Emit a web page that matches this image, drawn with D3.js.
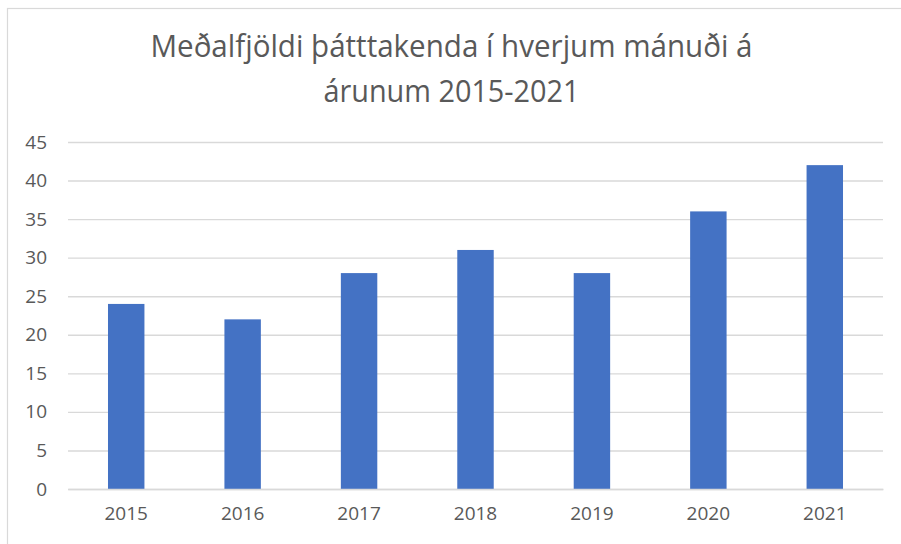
<!DOCTYPE html>
<html>
<head>
<meta charset="utf-8">
<script src="https://cdn.jsdelivr.net/npm/d3@7"></script>
<style>
  body { margin: 0; background: #fff; }
  text { font-family: "Open Sans", "Liberation Sans", sans-serif; fill: #595959; }
</style>
</head>
<body>
<div id="chart"></div>
<script>
// data
var years = ["2015", "2016", "2017", "2018", "2019", "2020", "2021"];
var values = [24, 22, 28, 31, 28, 36, 42];
var yTicks = [0, 5, 10, 15, 20, 25, 30, 35, 40, 45];
var titleLines = ["Meðalfjöldi þátttakenda í hverjum mánuði á", "árunum 2015-2021"];

var W = 901, H = 544;
var margin = { top: 142, right: 18, bottom: 55, left: 68 },
    width = W - margin.left - margin.right,
    height = H - margin.top - margin.bottom;

var svg = d3.select("#chart").append("svg")
    .attr("width", W)
    .attr("height", H);

// chart area border
svg.append("rect")
    .attr("x", 7.5).attr("y", 8.5)
    .attr("width", 920).attr("height", 560)
    .attr("fill", "none")
    .attr("stroke", "#d9d9d9")
    .attr("stroke-width", 1.2);

// title
var titleWidths = [602, 256];
svg.selectAll(".title")
    .data(titleLines)
    .enter().append("text")
    .attr("class", "title")
    .attr("x", W / 2 + 1)
    .attr("y", function (d, i) { return 57 + i * 45; })
    .attr("text-anchor", "middle")
    .style("font-size", "31px")
    .attr("textLength", function (d, i) { return titleWidths[i]; })
    .attr("lengthAdjust", "spacingAndGlyphs")
    .text(function (d) { return d; });

var g = svg.append("g")
    .attr("transform", "translate(" + margin.left + "," + margin.top + ")");

var x = d3.scaleBand()
    .domain(years)
    .range([0, width])
    .paddingInner(0.687)
    .paddingOuter(0.3435);

var y = d3.scaleLinear()
    .domain([0, 45])
    .range([height, 0]);

// gridlines
g.append("g")
    .call(d3.axisLeft(y).tickValues(yTicks).tickSize(-width).tickFormat(""))
    .call(function (s) {
        s.select(".domain").remove();
        s.selectAll("line").attr("stroke", "#d9d9d9").attr("stroke-width", 1.4);
    });

// y labels
g.append("g")
    .call(d3.axisLeft(y).tickValues(yTicks).tickSize(0).tickPadding(21))
    .call(function (s) {
        s.select(".domain").remove();
        s.selectAll("text").style("font-size", "19px").attr("fill", "#595959");
    });

// bars
g.selectAll(".bar")
    .data(values)
    .enter().append("rect")
    .attr("class", "bar")
    .attr("x", function (d, i) { return x(years[i]); })
    .attr("width", x.bandwidth())
    .attr("y", function (d) { return y(d); })
    .attr("height", function (d) { return height - y(d); })
    .attr("fill", "#4472c4");

// x axis
g.append("g")
    .attr("transform", "translate(0," + height + ")")
    .call(d3.axisBottom(x).tickSize(0).tickPadding(18))
    .call(function (s) {
        s.select(".domain").attr("stroke", "#d9d9d9").attr("stroke-width", 1.4);
        s.selectAll("text").style("font-size", "19px").attr("fill", "#595959");
    });
</script>
</body>
</html>
